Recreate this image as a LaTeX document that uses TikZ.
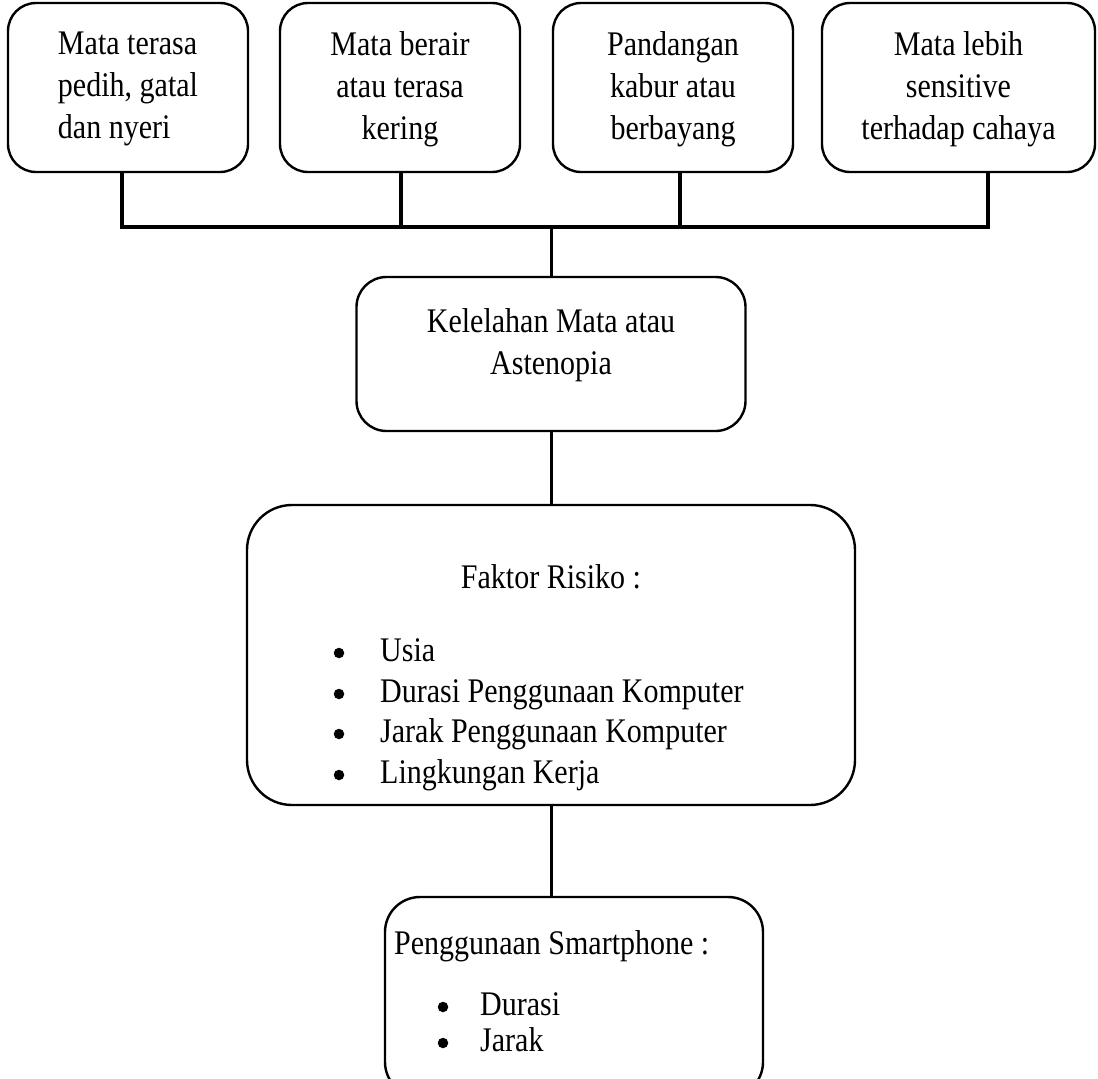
\documentclass[tikz,border=0pt]{standalone}
\usepackage{fontspec}
\setmainfont{Liberation Serif}[FakeStretch=0.87]
\begin{document}
\begin{tikzpicture}[x=1pt,y=-1pt,
  box/.style={draw, line width=2.4pt, inner sep=0pt},
  txt/.style={font=\fontsize{34.5}{42}\selectfont, align=center, inner sep=0pt},
  item/.style={txt, anchor=base west},
  dot/.style={circle, fill, inner sep=0pt, minimum size=10.5pt},
  bar/.style={line width=4pt},
  link/.style={line width=3pt}]
\useasboundingbox (0,0) rectangle (1098,1079);
\clip (0,0) rectangle (1098,1079);

% top boxes
\node[box, rounded corners=28pt, minimum width=240pt, minimum height=169pt] (b1) at (128,87.5) {};
\node[box, rounded corners=28pt, minimum width=240pt, minimum height=169pt] (b2) at (400,87.5) {};
\node[box, rounded corners=28pt, minimum width=240pt, minimum height=169pt] (b3) at (673,87.5) {};
\node[box, rounded corners=28pt, minimum width=273pt, minimum height=169pt] (b4) at (958.5,87.5) {};

\node[txt, align=left] (t1) at (128,89) {Mata terasa\\pedih, gatal\\dan nyeri};
\node[txt] (t2) at (400,89) {Mata berair\\atau terasa\\kering};
\node[txt] (t3) at (673,89) {Pandangan\\kabur atau\\berbayang};
\node[txt] (t4) at (958.5,89) {Mata lebih\\sensitive\\terhadap cahaya};

% bar coordinates
\coordinate (j1) at (122,227);
\coordinate (j2) at (401,227);
\coordinate (j3) at (680,227);
\coordinate (j4) at (988,227);
\coordinate (jc) at (551,227);

\draw[bar] (b1.south -| j1) -- (j1);
\draw[bar] (b2.south -| j2) -- (j2);
\draw[bar] (b3.south -| j3) -- (j3);
\draw[bar] (b4.south -| j4) -- (j4);
\draw[bar, line cap=rect] (j1) -- (j4);

% middle box
\node[box, rounded corners=30pt, minimum width=389pt, minimum height=154pt] (mid) at (551,354) {};
\node[txt] (tm) at (551,345) {Kelelahan Mata atau\\Astenopia};
\draw[link] (jc) -- (mid.north);

% risk factor box
\node[box, rounded corners=45pt, minimum width=608pt, minimum height=300pt] (fak) at (551,655) {};
\node[txt] (tf) at (551,577) {Faktor Risiko :};
\node[dot] (d1) at (339,653) {};
\node[dot] (d2) at (339,694) {};
\node[dot] (d3) at (339,734) {};
\node[dot] (d4) at (339,775) {};
\node[item] (f1) at (380,661) {Usia};
\node[item] (f2) at (380,702) {Durasi Penggunaan Komputer};
\node[item] (f3) at (380,742) {Jarak Penggunaan Komputer};
\node[item] (f4) at (380,783) {Lingkungan Kerja};
\draw[link] (mid.south) -- (fak.north);

% smartphone box
\node[box, rounded corners=35pt, minimum width=378pt, minimum height=200pt] (sp) at (574,997) {};
\node[txt, anchor=west] (ts) at (394,946) {Penggunaan Smartphone :};
\node[dot] (e1) at (443,1007) {};
\node[dot] (e2) at (443,1043) {};
\node[item] (s1) at (480,1015) {Durasi};
\node[item] (s2) at (480,1051) {Jarak};
\draw[link] (fak.south) -- (fak.south |- sp.north);
\end{tikzpicture}
\end{document}
